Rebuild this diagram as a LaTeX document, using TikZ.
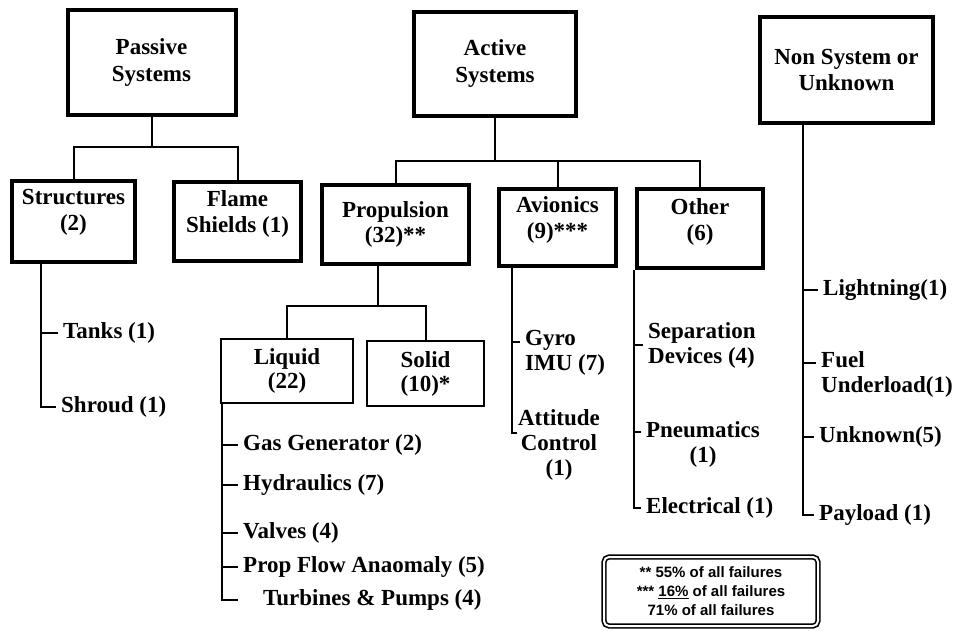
\documentclass[tikz,border=0pt]{standalone}
\usepackage{fontspec}
\setmainfont{Liberation Serif}
\newfontfamily\legendfont{Liberation Sans}
\usepackage{tikz}
\usetikzlibrary{positioning, calc}
\tikzstyle{topbox} = [draw, line width=4pt, align=center, font=\fontsize{23}{27}\selectfont\bfseries]
\tikzstyle{subbox} = [draw, line width=3.5pt, align=center, font=\fontsize{23}{25}\selectfont\bfseries]
\tikzstyle{smallbox} = [draw, line width=1.8pt, align=center, font=\fontsize{23}{24}\selectfont\bfseries]
\tikzstyle{boxlabel} = [align=center, font=\fontsize{23}{26}\selectfont\bfseries]
\tikzstyle{leaf} = [anchor=west, inner xsep=5pt, inner ysep=2pt, font=\fontsize{23}{25}\selectfont\bfseries]
\tikzstyle{branch} = [line width=2pt]
\tikzstyle{legendbox} = [draw, line width=1.6pt, double, double distance=2pt, rounded corners=5pt, align=center, font=\legendfont\fontsize{15}{19}\selectfont\bfseries]

\begin{document}
\begin{tikzpicture}[x=1pt, y=-1pt]
\useasboundingbox (0,0) rectangle (961,631);

% Top level
\node[topbox, minimum width=168pt, minimum height=105pt] (passive) at (151.5,63) {Passive\\Systems};
\node[topbox, minimum width=162pt, minimum height=104pt] (active) at (495,64) {Active\\Systems};
\node[topbox, minimum width=173pt, minimum height=106pt] (nonsys) at (846.5,70) {Non System or\\Unknown};

% Second level
\node[subbox, minimum width=123pt, minimum height=81pt, label={[boxlabel, yshift=9pt]center:Structures\\(2)}] (structures) at (73.5,221.5) {};
\node[subbox, minimum width=127pt, minimum height=79pt, label={[boxlabel, yshift=8pt]center:Flame\\Shields (1)}] (flame) at (237.5,221.5) {};
\node[subbox, minimum width=147pt, minimum height=79pt] (propulsion) at (395.5,224.5) {Propulsion\\(32)**};
\node[subbox, minimum width=117pt, minimum height=77pt, label={[boxlabel, yshift=8pt]center:Avionics\\(9)***}] (avionics) at (557.5,227.5) {};
\node[subbox, minimum width=126pt, minimum height=79pt, label={[boxlabel, yshift=7pt]center:Other\\(6)}] (other) at (700,228.5) {};

% Propulsion split
\node[smallbox, minimum width=132pt, minimum height=64pt] (liquid) at (287,371) {Liquid\\(22)};
\node[smallbox, minimum width=117pt, minimum height=65pt] (solid) at (425.5,373.5) {Solid\\(10)*};

% Tree lines
\coordinate (passivejoin) at (151.5,147);
\draw[branch] (passive.south) -- (passivejoin);
\draw[branch] (structures.north) |- (passivejoin) -| (flame.north);

\coordinate (activejoin) at (495,161);
\draw[branch] (active.south) -- (activejoin);
\draw[branch] (propulsion.north) |- (activejoin) -| (other.north);
\draw[branch] (avionics.north) -- (avionics.north |- activejoin);

\coordinate (propstem) at ([xshift=-18pt]propulsion.south);
\coordinate (propjoin) at (377.5,306);
\draw[branch] (propstem) -- (propjoin);
\draw[branch] (liquid.north) |- (propjoin) -| (solid.north);

% Structures items
\node[leaf] (tanks) at (58,333) {Tanks (1)};
\node[leaf] (shroud) at (56,407) {Shroud (1)};
\coordinate (structstem) at ([xshift=-32.5pt]structures.south);
\draw[branch] (structstem) |- (shroud.west);
\draw[branch] (structstem |- tanks.west) -- (tanks.west);

% Liquid items
\node[leaf] (gasgen) at (238,445) {Gas Generator (2)};
\node[leaf] (hydraulics) at (238,485) {Hydraulics (7)};
\node[leaf] (valves) at (238,533) {Valves (4)};
\node[leaf] (propflow) at (238,567) {Prop Flow Anaomaly (5)};
\node[leaf] (turbines) at (258,600) {Turbines \& Pumps (4)};
\coordinate (liquidstem) at ([xshift=-65pt]liquid.south);
\draw[branch, shorten >=20pt] (liquidstem) |- (turbines.west);
\foreach \item in {gasgen, hydraulics, valves, propflow}
  \draw[branch] (liquidstem |- \item.west) -- (\item.west);

% Avionics items
\node[leaf, align=left] (gyro) at (520,352.5) {Gyro\\IMU (7)};
\node[leaf, anchor=center, align=center, inner xsep=1pt] (attitude) at (559,445) {Attitude\\Control\\(1)};
\coordinate (avionstem) at ([xshift=-45.5pt]avionics.south);
\draw[branch] (avionstem) |- ([yshift=12pt]attitude.west);
\draw[branch] (avionstem |- 0,342) -- ([yshift=10.5pt]gyro.west);

% Other items
\node[leaf, align=left] (separation) at (643,345) {Separation\\Devices (4)};
\node[leaf, anchor=center, align=center] (pneumatics) at (703,444) {Pneumatics\\(1)};
\node[leaf] (electrical) at (641,508) {Electrical (1)};
\coordinate (otherstem) at ([xshift=-66pt]other.south);
\draw[branch] (otherstem) |- (electrical.west);
\draw[branch] (otherstem |- separation.west) -- (separation.west);
\draw[branch] (otherstem |- 0,432) -- ([yshift=12pt]pneumatics.west);

% Non system items
\node[leaf] (lightning) at (818,290) {Lightning(1)};
\node[leaf, align=left] (fuel) at (816,374.5) {Fuel\\Underload(1)};
\node[leaf] (unknown) at (814,437) {Unknown(5)};
\node[leaf] (payload) at (814,515) {Payload (1)};
\coordinate (nonsysstem) at ([xshift=-43.5pt]nonsys.south);
\draw[branch] (nonsysstem) |- (payload.west);
\draw[branch] (nonsysstem |- lightning.west) -- (lightning.west);
\draw[branch] (nonsysstem |- 0,363) -- ([yshift=11.5pt]fuel.west);
\draw[branch] (nonsysstem |- unknown.west) -- (unknown.west);

% Legend
\node[legendbox, minimum width=214pt, minimum height=69pt] (legend) at (711,591.5) {** 55\% of all failures\\*** \underline{16\%} of all failures\\71\% of all failures};
\end{tikzpicture}
\end{document}
